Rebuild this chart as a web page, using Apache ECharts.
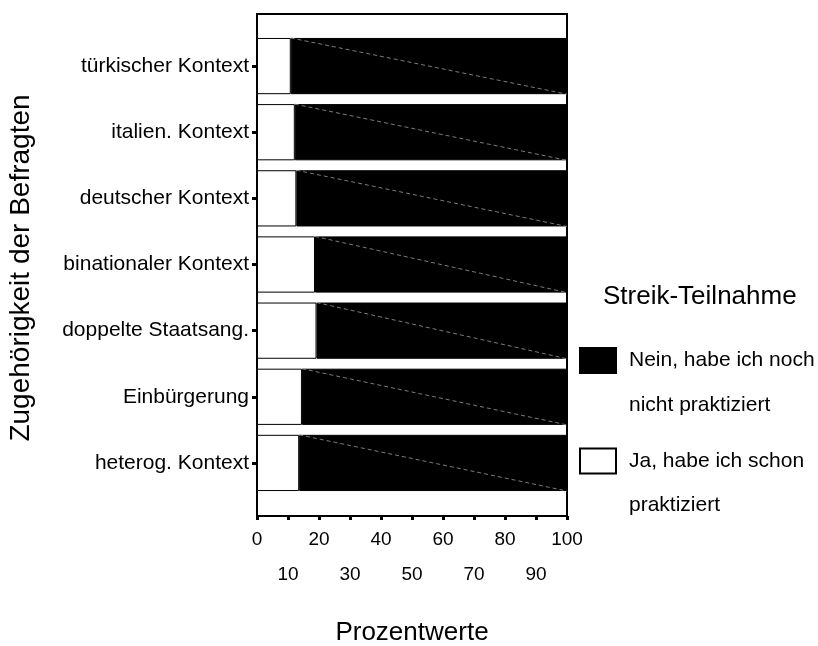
<!DOCTYPE html>
<html>
<head>
<meta charset="utf-8">
<script src="https://cdn.jsdelivr.net/npm/echarts@6/dist/echarts.min.js"></script>
<style>
html,body{margin:0;padding:0;background:#fff;}
#chart{width:818px;height:646px;}
</style>
</head>
<body>
<div id="chart"></div>
<script>
// ---- data ----
var categories = ['türkischer Kontext', 'italien. Kontext', 'deutscher Kontext', 'binationaler Kontext', 'doppelte Staatsang.', 'Einbürgerung', 'heterog. Kontext'];
var jaValues = [10.9, 12.2, 12.7, 18.7, 19.2, 14.5, 13.6];
var neinValues = [89.1, 87.8, 87.3, 81.3, 80.8, 85.5, 86.4];
var xTicks = [0, 10, 20, 30, 40, 50, 60, 70, 80, 90, 100];
var seriesNames = ['Nein, habe ich noch\nnicht praktiziert', 'Ja, habe ich schon\npraktiziert'];
var legendTitle = 'Streik-Teilnahme';
var xTitle = 'Prozentwerte';
var yTitle = 'Zugehörigkeit der Befragten';

var FONT = 'Liberation Sans, Arial, sans-serif';
var BAR_FRAC = 0.85;

var chart = echarts.init(document.getElementById('chart'), null, {renderer: 'canvas'});

var diagData = jaValues.map(function (v, i) { return [v, i]; });

function legendFmt(name) { return '\n' + name; }

var option = {
  backgroundColor: '#fff',
  animation: false,
  title: {
    text: legendTitle,
    left: 603, top: 282, padding: 0,
    textStyle: {fontFamily: FONT, fontSize: 26, fontWeight: 'normal', color: '#000', lineHeight: 30}
  },
  legend: [
    {
      data: [seriesNames[0]],
      left: 579, top: 293, padding: 0,
      orient: 'vertical',
      itemWidth: 36, itemHeight: 25,
      selectedMode: false,
      icon: 'rect',
      formatter: legendFmt,
      textStyle: {fontFamily: FONT, fontSize: 21, color: '#000', lineHeight: 45, padding: [0, 0, 0, 8]}
    },
    {
      data: [seriesNames[1]],
      left: 579, top: 395, padding: 0,
      orient: 'vertical',
      itemWidth: 36, itemHeight: 25,
      selectedMode: false,
      icon: 'rect',
      formatter: legendFmt,
      textStyle: {fontFamily: FONT, fontSize: 21, color: '#000', lineHeight: 44, padding: [0, 0, 0, 8]}
    }
  ],
  grid: [
    {left: 257, top: 14, width: 310, height: 502, show: true, borderColor: '#000', borderWidth: 2, backgroundColor: 'transparent', outerBoundsMode: 'none', containLabel: false},
    {left: 257, top: 33, width: 310, height: 463, outerBoundsMode: 'none', containLabel: false}
  ],
  xAxis: [
    {
      gridIndex: 0, type: 'value', min: xTicks[0], max: xTicks[xTicks.length - 1], interval: 10,
      axisLine: {show: true, lineStyle: {color: '#000', width: 2}},
      axisTick: {show: true, length: 4, lineStyle: {color: '#000', width: 3}},
      splitLine: {show: false},
      axisLabel: {
        fontFamily: FONT, fontSize: 19, color: '#000', margin: 6, lineHeight: 35,
        formatter: function (v) { return (v % 20 === 0) ? String(v) : '\n' + v; }
      },
      name: xTitle, nameLocation: 'middle', nameGap: 104,
      nameTextStyle: {fontFamily: FONT, fontSize: 26, color: '#000'}
    },
    {
      gridIndex: 1, type: 'value', min: 0, max: 100, show: false
    }
  ],
  yAxis: [
    {
      gridIndex: 0, type: 'value', min: 0, max: 1,
      axisLine: {show: false}, axisTick: {show: false}, axisLabel: {show: false}, splitLine: {show: false},
      name: yTitle, nameLocation: 'middle', nameRotate: 90, nameGap: 222,
      nameTextStyle: {fontFamily: FONT, fontSize: 28, color: '#000', padding: [0, 6, 0, 0]}
    },
    {
      gridIndex: 1, type: 'category', data: categories, inverse: true,
      axisLine: {show: false},
      axisTick: {show: true, alignWithLabel: true, length: 5, lineStyle: {color: '#000', width: 3}},
      axisLabel: {fontFamily: FONT, fontSize: 21, color: '#000', margin: 8},
      splitLine: {show: false}
    }
  ],
  series: [
    {
      name: seriesNames[1], type: 'bar', stack: 'total', xAxisIndex: 1, yAxisIndex: 1,
      data: jaValues, barWidth: (BAR_FRAC * 100) + '%',
      itemStyle: {color: '#fff', borderColor: '#000', borderWidth: 1}
    },
    {
      name: seriesNames[0], type: 'bar', stack: 'total', xAxisIndex: 1, yAxisIndex: 1,
      data: neinValues, barWidth: (BAR_FRAC * 100) + '%',
      itemStyle: {color: '#000', borderColor: '#000', borderWidth: 1}
    },
    {
      type: 'custom', xAxisIndex: 1, yAxisIndex: 1, silent: true, z: 5,
      data: diagData,
      renderItem: function (params, api) {
        var start = api.coord([api.value(0), api.value(1)]);
        var end = api.coord([100, api.value(1)]);
        var h = api.size([0, 1])[1] * BAR_FRAC;
        return {
          type: 'line',
          shape: {x1: start[0], y1: start[1] - h / 2, x2: end[0], y2: end[1] + h / 2},
          style: {stroke: '#9a9a9a', lineWidth: 0.8, lineDash: [4, 3]}
        };
      }
    }
  ]
};

chart.setOption(option);
</script>
</body>
</html>
